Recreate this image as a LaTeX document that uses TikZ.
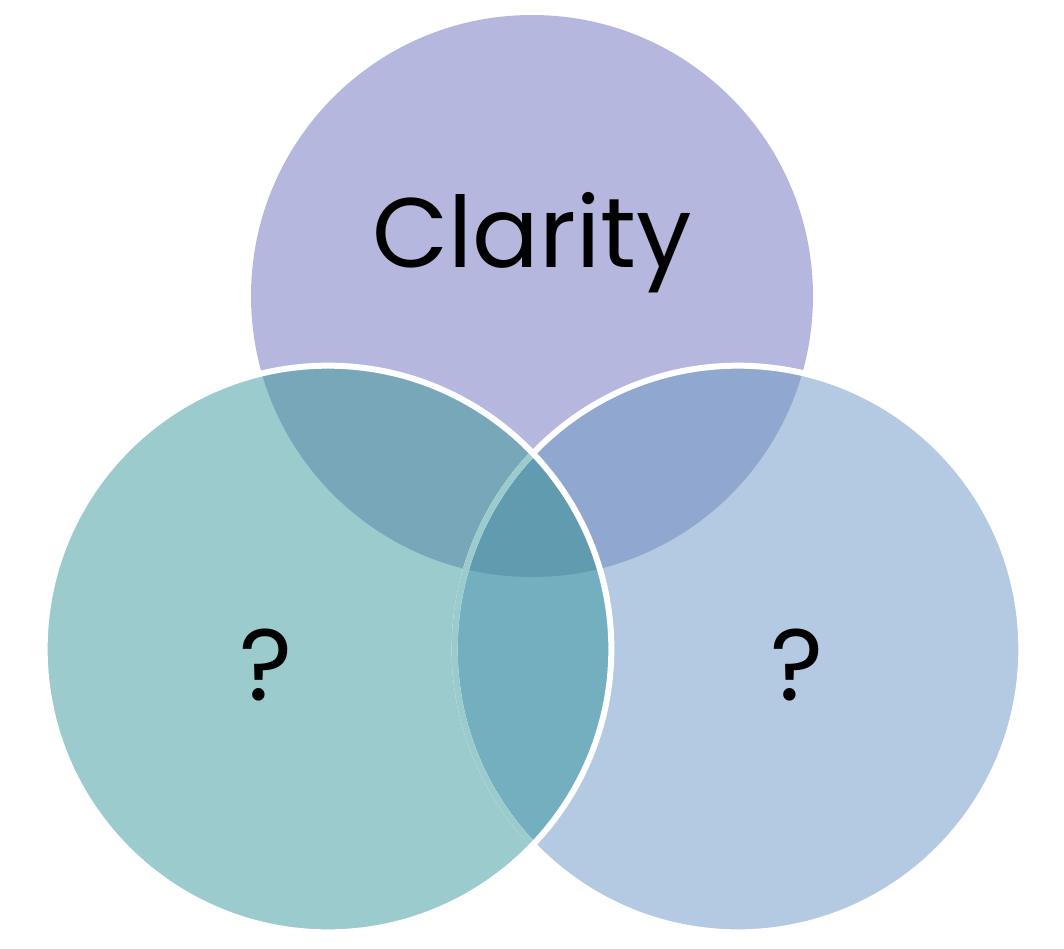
\documentclass[tikz,border=0pt]{standalone}
\usepackage{fontspec}
\setmainfont{Poppins}
\usetikzlibrary{positioning}

\definecolor{topcol}{HTML}{B6B7DE}
\definecolor{leftcol}{HTML}{9BCBCD}
\definecolor{rightcol}{HTML}{B4C9E2}
\definecolor{tlcol}{HTML}{77A7B8}
\definecolor{trcol}{HTML}{90A7D0}
\definecolor{lrcol}{HTML}{74AFBF}
\definecolor{midcol}{HTML}{609BAF}

\tikzset{
  rim/.style={draw=white, line width=4.5pt},
  label/.style={font=\fontsize{76}{76}\selectfont, text=black}
}

\begin{document}
\begin{tikzpicture}[x=0.75pt, y=-0.75pt]
        \useasboundingbox (0,0) rectangle (1064,949);
        \def\radt{210.75pt}
        \def\rad{212.5pt}

        % Centres of the circles
        \coordinate (t) at (532,296);
        \coordinate (l) at (328,649);
        \coordinate (r) at (738,649);

        % Draw the circles
        \fill[topcol] (t) circle[radius=\radt];
        \fill[rightcol] (r) circle[radius=\rad];
        \fill[leftcol] (l) circle[radius=\rad];

        % Colour the overlaps
        \begin{scope}
          \clip (t) circle[radius=\radt];
          \fill[tlcol] (l) circle[radius=\rad];
          \fill[trcol] (r) circle[radius=\rad];
        \end{scope}
        \begin{scope}
          \clip (l) circle[radius=\rad];
          \fill[lrcol] (r) circle[radius=\rad];
          \clip (t) circle[radius=\radt];
          \fill[midcol] (r) circle[radius=\rad];
        \end{scope}

        % White rims
        \draw[rim] (r) circle[radius=\rad];
        \begin{scope}
          \clip (l) circle[radius=\rad];
          \draw[rim, draw=leftcol] (r) circle[radius=\rad];
        \end{scope}
        \draw[rim] (l) circle[radius=\rad];

        % Labels
        \node[label, font=\fontsize{74}{74}\selectfont] (clarity) at (532,243) {Clarity};
        \node[label] (qleft) at (266,665) {?};
        \node[label] (qright) at (797,665) {?};

    \end{tikzpicture}
\end{document}
